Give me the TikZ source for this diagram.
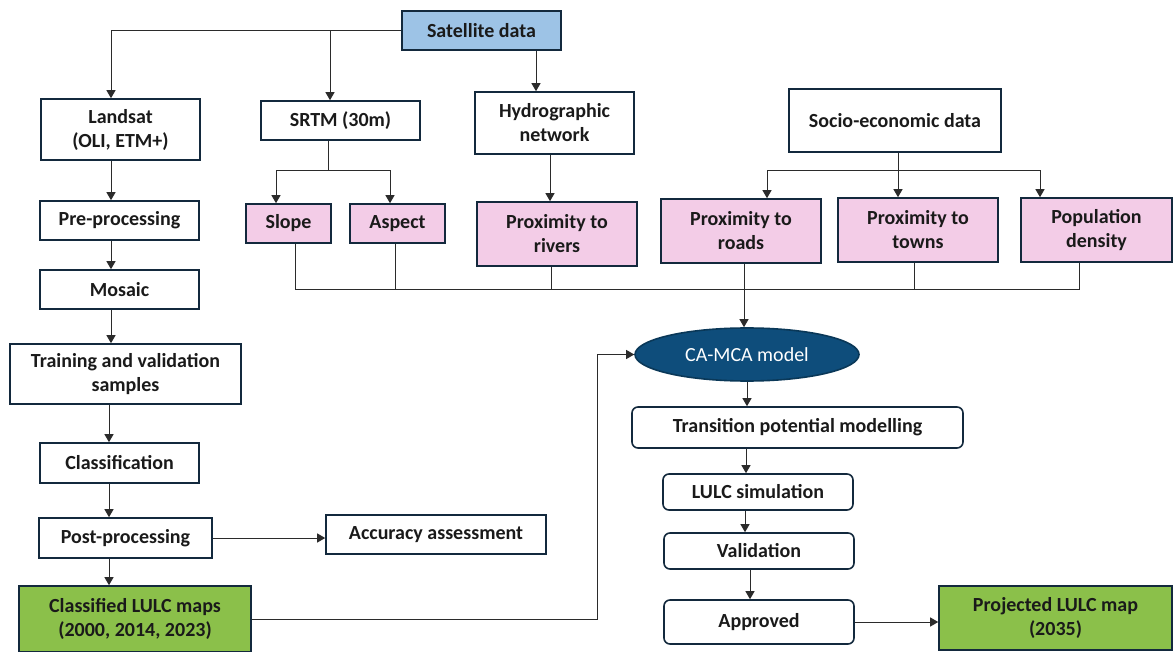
\documentclass[tikz,border=0pt]{standalone}
\usepackage{fontspec}
\setmainfont{Carlito}
\usetikzlibrary{arrows.meta,shapes.geometric,calc}
\definecolor{bord}{HTML}{13293D}
\definecolor{satblue}{HTML}{9DC3E6}
\definecolor{pinkf}{HTML}{F3CCE7}
\definecolor{greenf}{HTML}{8BC04A}
\definecolor{camblue}{HTML}{0E4D7B}
\definecolor{camedge}{HTML}{0A3858}
\definecolor{linec}{HTML}{2B2B2B}
\definecolor{txt}{HTML}{1A1A1A}
\begin{document}
\begin{tikzpicture}[x=1pt,y=-1pt,
  box/.style={draw=bord,line width=1.6pt,fill=white,inner sep=0pt,align=center,
    font=\fontsize{20}{24}\selectfont\bfseries,text=txt},
  rbox/.style={box,rounded corners=6pt},
  pinkbox/.style={box,fill=pinkf},
  greenbox/.style={box,fill=greenf},
  bluebox/.style={box,fill=satblue},
  line/.style={draw=linec,line width=1pt},
  arr/.style={line,-{Triangle[length=8pt,width=9pt]}}
]
\useasboundingbox (0,0) rectangle (1175,652);
\fill[white] (0,0) rectangle (1175,652);

% nodes
\node[bluebox,minimum width=159pt,minimum height=39pt] (sat) at (481.5,30.5) {Satellite data};
\node[box,minimum width=159pt,minimum height=61pt] (landsat) at (120.5,129.5) {Landsat\\(OLI, ETM+)};
\node[box,minimum width=159pt,minimum height=39pt] (srtm) at (340.5,120.5) {SRTM (30m)};
\node[box,minimum width=159pt,minimum height=62pt] (hydro) at (554.5,123) {Hydrographic\\network};
\node[box,minimum width=212pt,minimum height=63pt] (socio) at (895,120.5) {Socio-economic data};
\node[box,minimum width=159pt,minimum height=39pt] (pre) at (119.5,220.5) {Pre-processing};
\node[pinkbox,minimum width=85pt,minimum height=39pt] (slope) at (288.5,223.5) {Slope};
\node[pinkbox,minimum width=95pt,minimum height=39pt] (aspect) at (397.5,223.5) {Aspect};
\node[pinkbox,minimum width=160pt,minimum height=64pt] (rivers) at (557,234) {Proximity to\\rivers};
\node[pinkbox,minimum width=160pt,minimum height=64pt] (roads) at (741,231) {Proximity to\\roads};
\node[pinkbox,minimum width=160pt,minimum height=64pt] (towns) at (918,230) {Proximity to\\towns};
\node[pinkbox,minimum width=151pt,minimum height=64pt] (pop) at (1096.5,230) {Population\\density};
\node[box,minimum width=159pt,minimum height=39pt] (mosaic) at (119.5,289.5) {Mosaic};
\node[ellipse,draw=camedge,line width=1.6pt,fill=camblue,inner sep=0pt,
  minimum width=224pt,minimum height=53pt,text=white,
  font=\fontsize{20}{24}\selectfont] (cam) at (747,354.5) {CA-MCA model};
\node[box,minimum width=231pt,minimum height=60pt] (training) at (125.5,374) {Training and validation\\samples};
\node[rbox,minimum width=331pt,minimum height=41pt] (trans) at (797.5,427.5) {Transition potential modelling};
\node[box,minimum width=159pt,minimum height=40pt] (class) at (119.5,463) {Classification};
\node[rbox,minimum width=190pt,minimum height=36pt] (lulc) at (758,492) {LULC simulation};
\node[box,minimum width=173pt,minimum height=40pt] (post) at (125.5,538) {Post-processing};
\node[box,minimum width=220pt,minimum height=39pt] (acc) at (436,534.5) {Accuracy assessment};
\node[rbox,minimum width=190pt,minimum height=36pt] (valid) at (759,551) {Validation};
\node[greenbox,minimum width=232pt,minimum height=66pt] (classified) at (135,619) {Classified LULC maps\\(2000, 2014, 2023)};
\node[rbox,minimum width=190pt,minimum height=44pt] (appr) at (759,622) {Approved};
\node[greenbox,minimum width=233pt,minimum height=64pt] (proj) at (1055.5,618) {Projected LULC map\\(2035)};

% satellite branches
\draw[arr] (sat.west) -| ([xshift=-9.5]landsat.north);
\draw[arr] ([xshift=-10.5]srtm.north |- sat.west) -- ([xshift=-10.5]srtm.north);
\draw[arr] ([xshift=-18.5]hydro.north |- sat.south) -- ([xshift=-18.5]hydro.north);

% left column
\draw[arr] ([xshift=-9.5]landsat.south) -- ([xshift=-9.5]landsat.south |- pre.north);
\draw[arr] ([xshift=-8.5]pre.south) -- ([xshift=-8.5]pre.south |- mosaic.north);
\draw[arr] ([xshift=-8.5]mosaic.south) -- ([xshift=-8.5]mosaic.south |- training.north);
\draw[arr] ([xshift=-10.5]class.north |- training.south) -- ([xshift=-10.5]class.north);
\draw[arr] ([xshift=-10.5]class.south) -- ([xshift=-10.5]class.south |- post.north);
\draw[arr] ([xshift=-16.5]post.south) -- ([xshift=-16.5]post.south |- classified.north);
\draw[arr] (post.east) -- (post.east -| acc.west);

% SRTM split
\draw[line] ([xshift=-12.5]srtm.south) -- ++(0,30) coordinate (sb);
\draw[arr] (sb) -| ([xshift=-12.5]slope.north);
\draw[arr] (sb) -| ([xshift=-7.5]aspect.north);

% hydro
\draw[arr] ([xshift=-4.5]hydro.south) -- ([xshift=-4.5]hydro.south |- rivers.north);

% socio split
\draw[line] ([xshift=3]socio.south) -- ++(0,18) coordinate (sc);
\draw[arr] (sc) -| ([xshift=26]roads.north);
\draw[arr] (sc) -- (sc |- towns.north);
\draw[arr] (sc) -| ([xshift=-56.5]pop.north);

% collector bus
\draw[line] ([xshift=6.5]slope.south) -- ++(0,46) coordinate (bus) -| ([xshift=-17.5]pop.south);
\draw[line] ([xshift=-2.5]aspect.south) -- ([xshift=-2.5]aspect.south |- bus);
\draw[line] ([xshift=-6]rivers.south) -- ([xshift=-6]rivers.south |- bus);
\draw[line] ([xshift=-4]towns.south) -- ([xshift=-4]towns.south |- bus);
\draw[arr] ([xshift=3]roads.south) -- ([xshift=3]roads.south |- cam.north);

% model chain
\draw[arr] (cam.south) -- (cam.south |- trans.north);
\draw[arr] ([xshift=-12]lulc.north |- trans.south) -- ([xshift=-12]lulc.north);
\draw[arr] ([xshift=-13]lulc.south) -- ([xshift=-13]lulc.south |- valid.north);
\draw[arr] ([xshift=-9]valid.south) -- ([xshift=-9]valid.south |- appr.north);
\draw[arr] (appr.east) -- (appr.east -| proj.west);

% feedback
\draw[arr] (classified.east) -- ++(346,0) |- (cam.west);
\end{tikzpicture}
\end{document}
